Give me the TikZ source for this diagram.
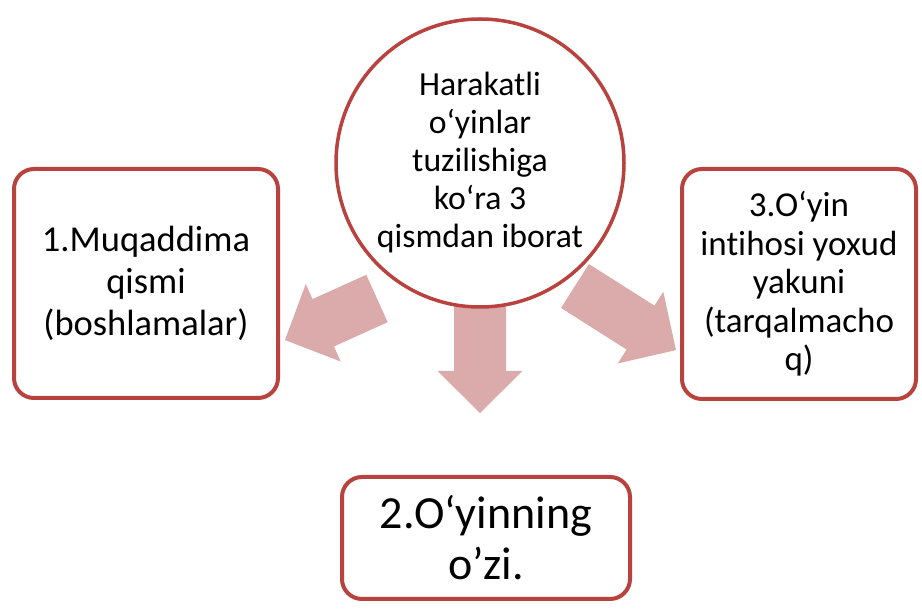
\documentclass[tikz,border=0pt]{standalone}
\usepackage{fontspec}
\setmainfont{Carlito}[Ligatures=NoCommon]
\definecolor{rim}{RGB}{184,66,62}
\definecolor{flow}{RGB}{219,170,171}
% block arrow: start coordinate, direction (degrees), total length
\newcommand\flowshape[3]{%
  \begin{scope}[shift={(#1)},rotate=#2]
    \fill[flow] (0,-26) -- ({#3-42},-26) -- ({#3-42},-42.5) -- (#3,0)
      -- ({#3-42},42.5) -- ({#3-42},26) -- (0,26) -- cycle;
  \end{scope}}
\begin{document}
\begin{tikzpicture}[x=1pt,y=-1pt,
  stagebox/.style={draw=rim, line width=4pt, rounded corners=20pt, fill=white,
    align=center, inner sep=0pt},
  hub/.style={circle, draw=rim, line width=3.5pt, fill=white, align=center,
    minimum size=288pt, inner sep=0pt}
]
\useasboundingbox (0,0) rectangle (922,609);

% back ends of the three block arrows
\coordinate (lfrom) at (377,298.5);
\coordinate (mfrom) at (480,298);
\coordinate (rfrom) at (575,286);

\flowshape{lfrom}{204.3}{101}
\flowshape{mfrom}{-90}{115}
\flowshape{rfrom}{-32.4}{119.6}

% central circle
\node[hub, font={\fontsize{33.7}{38}\selectfont}] (hub) at (480,163)
  {Harakatli\\o‘yinlar\\tuzilishiga\\ko‘ra 3\\qismdan iborat};

% the three parts
\node[stagebox, minimum width=264pt, minimum height=229pt,
  font={\fontsize{36.5}{41.7}\selectfont}] (first) at (146,283.5)
  {1.Muqaddima\\qismi\\(boshlamalar)};
\node[stagebox, minimum width=234pt, minimum height=230pt,
  font={\fontsize{35}{38.5}\selectfont}] (third) at (799,284)
  {3.O‘yin\\intihosi yoxud\\yakuni\\(tarqalmacho\\q)};
\node[stagebox, minimum width=288pt, minimum height=122pt,
  font={\fontsize{46}{51}\selectfont}] (second) at (486,538)
  {2.O‘yinning\\o’zi.};
\end{tikzpicture}
\end{document}
